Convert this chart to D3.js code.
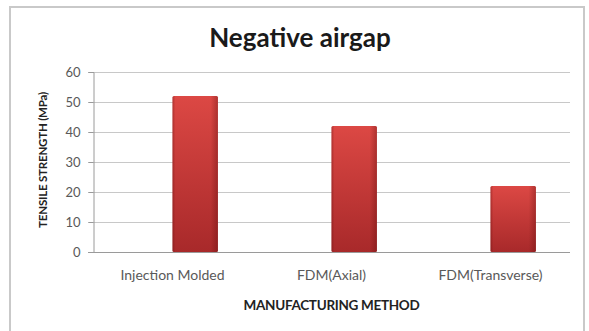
<!DOCTYPE html>
<html>
<head>
<meta charset="utf-8">
<script src="https://cdn.jsdelivr.net/npm/d3@7/dist/d3.min.js"></script>
<style>
  html, body { margin: 0; padding: 0; background: #fff; }
  svg { display: block; }
  text { font-family: Lato, "Open Sans", sans-serif; }
</style>
</head>
<body>
<svg id="chart" width="589" height="331"></svg>
<script>
// Tensile strength by manufacturing method (negative airgap)
const categories = ["Injection Molded", "FDM(Axial)", "FDM(Transverse)"];
const values = [52, 42, 22];
const yTicks = [0, 10, 20, 30, 40, 50, 60];
const title = "Negative airgap";
const xTitle = "MANUFACTURING METHOD";
const yTitle = "TENSILE STRENGTH (MPa)";

const svg = d3.select("#chart");
const plot = { left: 93, right: 570, top: 72, bottom: 252 };

// Outer chart frame
svg.append("rect")
  .attr("x", 10).attr("y", 7)
  .attr("width", 574).attr("height", 340)
  .attr("fill", "#fff")
  .attr("stroke", "#c9c9c9")
  .attr("stroke-width", 2);

const x = d3.scaleBand()
  .domain(categories)
  .range([plot.left, plot.right])
  .padding(0);

// Two bar slots per category; the series sits in the second slot
const slot = d3.scaleBand()
  .domain([0, 1])
  .range([0, x.bandwidth()])
  .paddingInner(0)
  .paddingOuter(0.75);

const y = d3.scaleLinear()
  .domain([0, 60])
  .range([plot.bottom, plot.top]);

// Gradients for the bars
const defs = svg.append("defs");
const vg = defs.append("linearGradient")
  .attr("id", "barFill").attr("x1", 0).attr("y1", 0).attr("x2", 0).attr("y2", 1);
vg.append("stop").attr("offset", "0%").attr("stop-color", "#dc4844");
vg.append("stop").attr("offset", "100%").attr("stop-color", "#a8292a");

const hg = defs.append("linearGradient")
  .attr("id", "barEdge").attr("x1", 0).attr("y1", 0).attr("x2", 1).attr("y2", 0);
hg.append("stop").attr("offset", "0%").attr("stop-color", "#5a0a0a").attr("stop-opacity", 0.35);
hg.append("stop").attr("offset", "6%").attr("stop-color", "#5a0a0a").attr("stop-opacity", 0);
hg.append("stop").attr("offset", "84%").attr("stop-color", "#5a0a0a").attr("stop-opacity", 0);
hg.append("stop").attr("offset", "100%").attr("stop-color", "#5a0a0a").attr("stop-opacity", 0.35);

// Horizontal gridlines
svg.append("g")
  .selectAll("line")
  .data(yTicks)
  .join("line")
  .attr("x1", plot.left - 5).attr("x2", plot.right)
  .attr("y1", d => y(d) + 0.5).attr("y2", d => y(d) + 0.5)
  .attr("stroke", d => d === 0 ? "#9a9a9a" : "#c8c8c8")
  .attr("stroke-width", 1);

// Y axis
const yAxis = svg.append("g")
  .attr("transform", `translate(${plot.left + 0.5},0)`)
  .call(d3.axisLeft(y).tickValues(yTicks).tickSize(5).tickPadding(8));
yAxis.select(".domain").attr("stroke", "#9a9a9a");
yAxis.selectAll(".tick line").attr("stroke", "#9a9a9a");
yAxis.selectAll(".tick text")
  .attr("fill", "#595959")
  .style("font-size", "13px")
  .style("font-family", "Lato, 'Open Sans', sans-serif");

// Bars
const bars = svg.append("g")
  .selectAll("g")
  .data(values.map((v, i) => ({ cat: categories[i], v })))
  .join("g");

bars.append("rect")
  .attr("x", d => x(d.cat) + slot(1))
  .attr("y", d => y(d.v))
  .attr("width", slot.bandwidth())
  .attr("height", d => y(0) - y(d.v))
  .attr("rx", 1.5)
  .attr("fill", "url(#barFill)");

bars.append("rect")
  .attr("x", d => x(d.cat) + slot(1))
  .attr("y", d => y(d.v))
  .attr("width", slot.bandwidth())
  .attr("height", d => y(0) - y(d.v))
  .attr("rx", 1.5)
  .attr("fill", "url(#barEdge)");

// Category labels
svg.append("g")
  .selectAll("text")
  .data(categories)
  .join("text")
  .attr("x", d => x(d) + x.bandwidth() / 2)
  .attr("y", 280)
  .attr("text-anchor", "middle")
  .attr("fill", "#595959")
  .style("font-size", "14px")
  .text(d => d);

// Axis titles
svg.append("text")
  .attr("x", (plot.left + plot.right) / 2)
  .attr("y", 310)
  .attr("text-anchor", "middle")
  .attr("fill", "#222")
  .style("font-size", "13.5px")
  .style("font-weight", "bold")
  .style("letter-spacing", "-0.3px")
  .text(xTitle);

svg.append("text")
  .attr("transform", `translate(47,160) rotate(-90)`)
  .attr("text-anchor", "middle")
  .attr("fill", "#222")
  .style("font-size", "11.5px")
  .style("font-weight", "bold")
  .style("letter-spacing", "-0.2px")
  .text(yTitle);

// Chart title
svg.append("text")
  .attr("x", 300)
  .attr("y", 47)
  .attr("text-anchor", "middle")
  .attr("fill", "#1a1a1a")
  .style("font-size", "26px")
  .style("font-weight", "bold")
  .text(title);
</script>
</body>
</html>
